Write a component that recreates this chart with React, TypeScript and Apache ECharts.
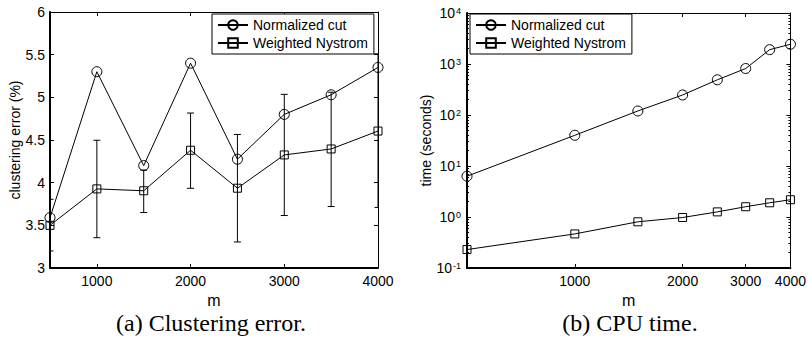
import React, { useEffect, useRef } from 'react';
import * as echarts from 'echarts';

const mValues = [500, 1000, 1500, 2000, 2500, 3000, 3500, 4000];
const errNcut = [3.59, 5.3, 4.2, 5.4, 4.275, 4.8, 5.03, 5.35];
const errNys = [3.5, 3.927, 3.905, 4.38, 3.935, 4.325, 4.395, 4.605];
const errNysLow = [3.2, 3.355, 3.65, 3.934, 3.305, 3.615, 3.72, 3.71];
const errNysHigh = [3.805, 4.497, 4.148, 4.816, 4.565, 5.035, 5.06, 5.51];
const timeNcut = [6.3, 40, 120, 247, 490, 815, 1910, 2440];
const timeNys = [0.23, 0.466, 0.805, 0.977, 1.26, 1.59, 1.9, 2.18];
const xTicks = [1000, 2000, 3000, 4000];
const timeTicks = [0.1, 1, 10, 100, 1000, 10000];
const timeMinorTicks = [
  0.2, 0.3, 0.4, 0.5, 0.6, 0.7, 0.8, 0.9,
  2, 3, 4, 5, 6, 7, 8, 9,
  20, 30, 40, 50, 60, 70, 80, 90,
  200, 300, 400, 500, 600, 700, 800, 900,
  2000, 3000, 4000, 5000, 6000, 7000, 8000, 9000,
];
const seriesNames = ['Normalized cut', 'Weighted Nystrom'];
const captions = ['(a) Clustering error.', '(b) CPU time.'];

const FONT = 'Liberation Sans, Arial, Helvetica, sans-serif';
const SERIF = 'Liberation Serif, Times New Roman, serif';

const lineStyleFor = (symbol: string, size: number) => ({
  type: 'line' as const,
  symbol,
  symbolSize: size,
  itemStyle: { color: 'rgba(255,255,255,0)', borderColor: '#000', borderWidth: 1 },
  lineStyle: { color: '#000', width: 1 },
  emphasis: { disabled: true },
  z: 3,
});

const tickOnly = (extra: any) => ({
  axisLine: { show: true, lineStyle: { color: '#000', width: 1 } },
  axisTick: { show: true, inside: true, length: 4, lineStyle: { color: '#000', width: 1 } },
  axisLabel: { show: false },
  splitLine: { show: false },
  ...extra,
});

export default function App() {
  const ref = useRef<HTMLDivElement>(null);
  useEffect(() => {
    if (!ref.current) return;
    const chart = echarts.init(ref.current, undefined, { renderer: 'svg' });
    const labelStyle = { color: '#000', fontSize: 14, fontFamily: FONT };
    const plain = (v: number) => String(Math.round(v));
    const option: any = {
      animation: false,
      backgroundColor: '#fff',
      grid: [
        { left: 50, top: 12, width: 328, height: 256, containLabel: false },
        { left: 467, top: 13, width: 328, height: 255, containLabel: false },
      ],
      xAxis: [
        {
          type: 'value', gridIndex: 0, min: 500, max: 4000, position: 'bottom',
          name: 'm', nameLocation: 'middle', nameGap: 17,
          nameTextStyle: { color: '#000', fontSize: 16, fontFamily: FONT, lineHeight: 16 },
          axisLine: { show: true, lineStyle: { color: '#000', width: 2 } },
          axisTick: { show: true, inside: true, length: 4, customValues: xTicks, lineStyle: { color: '#000' } },
          axisLabel: { show: true, customValues: xTicks, margin: 6, formatter: plain, ...labelStyle },
          splitLine: { show: false },
        },
        tickOnly({
          type: 'value', gridIndex: 0, min: 500, max: 4000, position: 'top',
          axisTick: { show: true, inside: true, length: 4, customValues: xTicks, lineStyle: { color: '#000' } },
        }),
        {
          type: 'log', logBase: 10, gridIndex: 1, min: 500, max: 4000, position: 'bottom',
          name: 'm', nameLocation: 'middle', nameGap: 17,
          nameTextStyle: { color: '#000', fontSize: 16, fontFamily: FONT, lineHeight: 16 },
          axisLine: { show: true, lineStyle: { color: '#000', width: 2 } },
          axisTick: { show: true, inside: true, length: 4, customValues: xTicks, lineStyle: { color: '#000' } },
          axisLabel: { show: true, customValues: xTicks, margin: 6, formatter: plain, ...labelStyle },
          splitLine: { show: false },
        },
        tickOnly({
          type: 'log', logBase: 10, gridIndex: 1, min: 500, max: 4000, position: 'top',
          axisTick: { show: true, inside: true, length: 4, customValues: xTicks, lineStyle: { color: '#000' } },
        }),
      ],
      yAxis: [
        {
          type: 'value', gridIndex: 0, min: 3, max: 6, interval: 0.5, position: 'left',
          name: 'clustering error (%)', nameLocation: 'middle', nameGap: 28,
          nameTextStyle: { color: '#000', fontSize: 14, fontFamily: FONT },
          axisLine: { show: true, lineStyle: { color: '#000', width: 2 } },
          axisTick: { show: true, inside: true, length: 4, lineStyle: { color: '#000' } },
          axisLabel: { show: true, margin: 5, ...labelStyle },
          splitLine: { show: false },
        },
        tickOnly({ type: 'value', gridIndex: 0, min: 3, max: 6, interval: 0.5, position: 'right' }),
        {
          type: 'log', logBase: 10, gridIndex: 1, min: 0.1, max: 10000, position: 'left',
          name: 'time (seconds)', nameLocation: 'middle', nameGap: 34,
          nameTextStyle: { color: '#000', fontSize: 14, fontFamily: FONT },
          axisLine: { show: true, lineStyle: { color: '#000', width: 2 } },
          axisTick: { show: true, inside: true, length: 4, customValues: timeTicks, lineStyle: { color: '#000' } },
          axisLabel: {
            show: true, customValues: timeTicks, margin: 6,
            formatter: (v: number) => `{b|10}{s|${Math.round(Math.log10(v))}}`,
            rich: {
              b: { fontSize: 14, fontFamily: FONT, color: '#000', lineHeight: 14, verticalAlign: 'bottom' },
              s: { fontSize: 9, fontFamily: FONT, color: '#000', lineHeight: 9, verticalAlign: 'top', padding: [0, 0, 8, 1] },
            },
          },
          splitLine: { show: false },
        },
        tickOnly({
          type: 'log', logBase: 10, gridIndex: 1, min: 0.1, max: 10000, position: 'left',
          axisLine: { show: false },
          axisTick: { show: true, inside: true, length: 2, customValues: timeMinorTicks, lineStyle: { color: '#000' } },
        }),
        tickOnly({
          type: 'log', logBase: 10, gridIndex: 1, min: 0.1, max: 10000, position: 'right',
          axisTick: { show: true, inside: true, length: 4, customValues: timeTicks, lineStyle: { color: '#000' } },
        }),
        tickOnly({
          type: 'log', logBase: 10, gridIndex: 1, min: 0.1, max: 10000, position: 'right',
          axisLine: { show: false },
          axisTick: { show: true, inside: true, length: 2, customValues: timeMinorTicks, lineStyle: { color: '#000' } },
        }),
      ],
      legend: [0, 1].map((i) => ({
        orient: 'vertical',
        left: i === 0 ? 212 : 470,
        top: 14,
        data: seriesNames,
        itemWidth: 30,
        itemHeight: 12,
        itemGap: 2,
        padding: [3, 6, 3, 5],
        borderColor: '#000',
        borderWidth: 1,
        backgroundColor: '#fff',
        selectedMode: false,
        textStyle: { color: '#000', fontSize: 14, fontFamily: FONT, lineHeight: 16 },
        z: 10,
      })),
      series: [
        {
          type: 'custom', name: 'error bars', xAxisIndex: 0, yAxisIndex: 0, clip: true, z: 2,
          encode: { x: 0, y: [1, 2] },
          data: mValues.map((m, i) => [m, errNysLow[i], errNysHigh[i]]),
          renderItem: (params: any, api: any) => {
            const x = api.value(0);
            const lo = api.coord([x, api.value(1)]);
            const hi = api.coord([x, api.value(2)]);
            const w = 3.5;
            const style = { stroke: '#000', lineWidth: 1 };
            return {
              type: 'group',
              children: [
                { type: 'line', shape: { x1: lo[0], y1: lo[1], x2: hi[0], y2: hi[1] }, style },
                { type: 'line', shape: { x1: lo[0] - w, y1: lo[1], x2: lo[0] + w, y2: lo[1] }, style },
                { type: 'line', shape: { x1: hi[0] - w, y1: hi[1], x2: hi[0] + w, y2: hi[1] }, style },
              ],
            };
          },
        },
        { ...lineStyleFor('circle', 10), name: seriesNames[0], xAxisIndex: 0, yAxisIndex: 0, data: mValues.map((m, i) => [m, errNcut[i]]) },
        { ...lineStyleFor('rect', 8), name: seriesNames[1], xAxisIndex: 0, yAxisIndex: 0, data: mValues.map((m, i) => [m, errNys[i]]) },
        { ...lineStyleFor('circle', 10), name: seriesNames[0], xAxisIndex: 2, yAxisIndex: 2, data: mValues.map((m, i) => [m, timeNcut[i]]) },
        { ...lineStyleFor('rect', 8), name: seriesNames[1], xAxisIndex: 2, yAxisIndex: 2, data: mValues.map((m, i) => [m, timeNys[i]]) },
      ],
      graphic: [
        { type: 'text', x: 211, y: 323, style: { text: captions[0], font: `24px ${SERIF}`, fill: '#000', textAlign: 'center', textVerticalAlign: 'middle' } },
        { type: 'text', x: 630, y: 323, style: { text: captions[1], font: `24px ${SERIF}`, fill: '#000', textAlign: 'center', textVerticalAlign: 'middle' } },
      ],
    };
    chart.setOption(option);
    return () => chart.dispose();
  }, []);
  return <div ref={ref} style={{ position: 'absolute', left: 0, top: 0, width: 809, height: 339 }} />;
}
